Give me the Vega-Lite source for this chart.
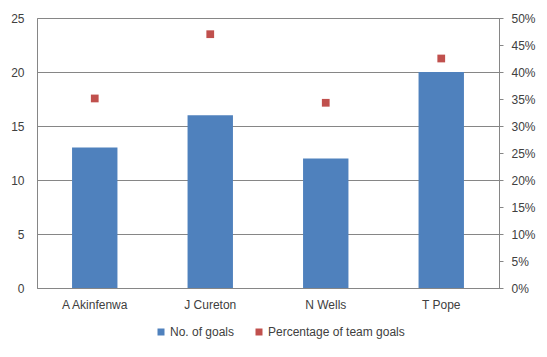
{
  "$schema": "https://vega.github.io/schema/vega-lite/v6.json",
  "width": 462,
  "height": 270,
  "autosize": "none",
  "padding": {"left": 37, "top": 18, "right": 48, "bottom": 69},
  "background": "white",
  "config": {
    "font": "Liberation Sans",
    "view": {"stroke": "#868686", "strokeWidth": 1},
    "axis": {"labelFont": "Liberation Sans", "labelFontSize": 12, "labelColor": "#404040", "domainColor": "#868686", "tickColor": "#868686", "gridColor": "#868686", "title": null},
    "legend": {"labelFont": "Liberation Sans", "labelFontSize": 12, "labelColor": "#404040"}
  },
  "data": {"values": [
    {"player": "A Akinfenwa", "goals": 13, "pct": 0.351},
    {"player": "J Cureton", "goals": 16, "pct": 0.47},
    {"player": "N Wells", "goals": 12, "pct": 0.343},
    {"player": "T Pope", "goals": 20, "pct": 0.425}
  ]},
  "encoding": {
    "x": {"field": "player", "type": "nominal", "sort": null,
      "scale": {"paddingInner": 0.607, "paddingOuter": 0.3035},
      "axis": {"labelAngle": 0, "ticks": false, "labelPadding": 11, "domain": true}}
  },
  "layer": [
    {
      "mark": {"type": "bar"},
      "encoding": {
        "y": {"field": "goals", "type": "quantitative",
          "scale": {"domain": [0, 25]},
          "axis": {"values": [0, 5, 10, 15, 20, 25], "ticks": false, "domain": false, "labelPadding": 13, "grid": true}},
        "color": {"datum": "No. of goals", "type": "nominal",
          "scale": {"domain": ["No. of goals", "Percentage of team goals"], "range": ["#4F81BD", "#C0504D"]},
          "legend": {"orient": "none", "legendX": 118, "legendY": 308, "direction": "horizontal", "title": null, "symbolType": "square", "symbolSize": 49, "columnPadding": 18, "labelOffset": 3, "symbolStrokeWidth": 0}}
      }
    },
    {
      "mark": {"type": "point", "shape": "square", "filled": true, "size": 60, "opacity": 1},
      "encoding": {
        "y": {"field": "pct", "type": "quantitative",
          "scale": {"domain": [0, 0.5]},
          "axis": {"orient": "right", "format": ".0%", "values": [0, 0.05, 0.1, 0.15, 0.2, 0.25, 0.3, 0.35, 0.4, 0.45, 0.5], "grid": false, "tickSize": 4, "labelPadding": 8}},
        "color": {"datum": "Percentage of team goals", "type": "nominal"}
      }
    }
  ],
  "resolve": {"scale": {"y": "independent"}}
}
